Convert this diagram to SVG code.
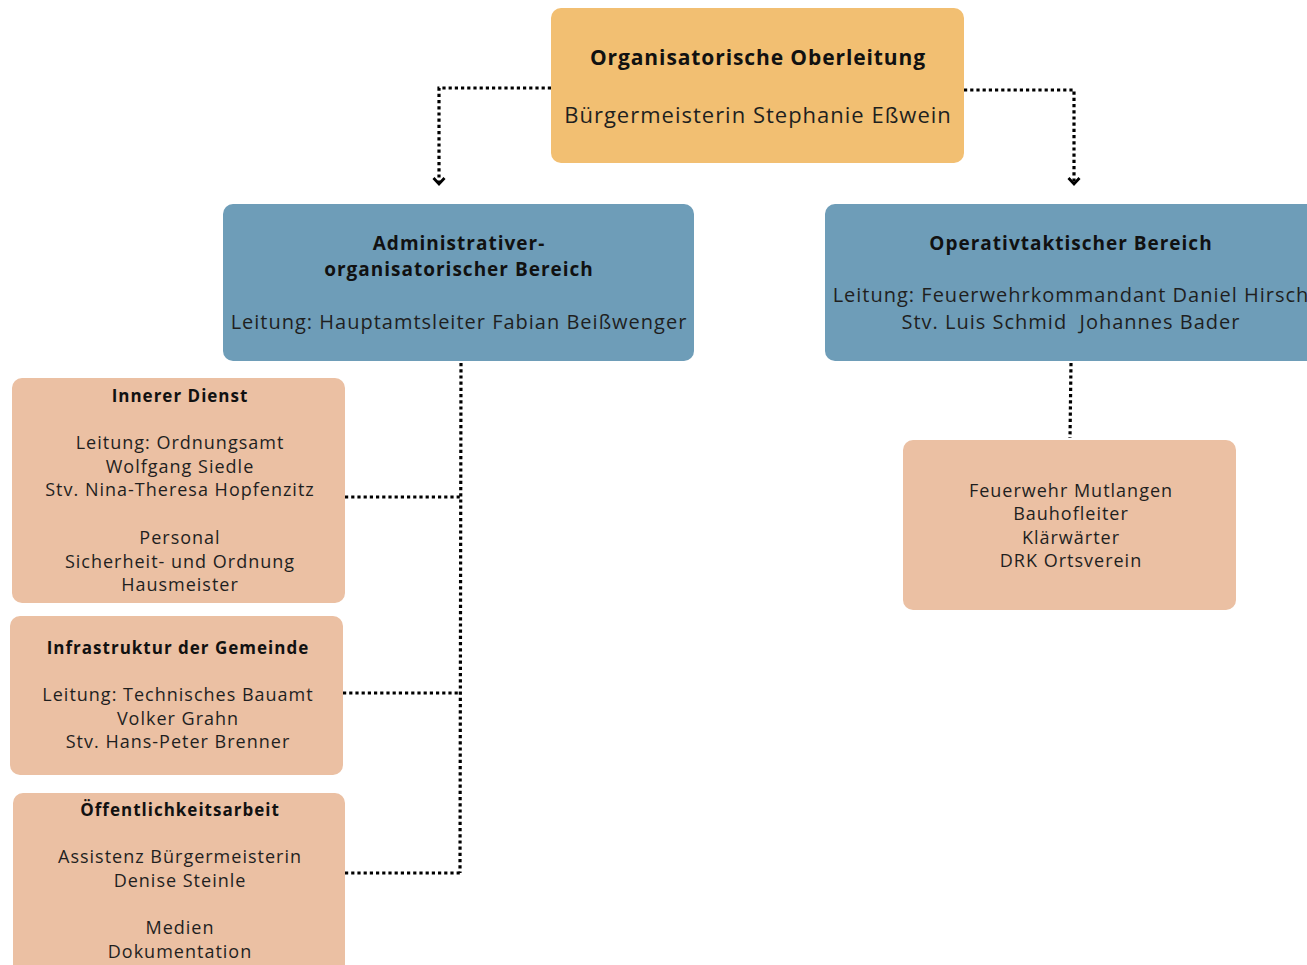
<svg xmlns="http://www.w3.org/2000/svg" width="1307" height="965" viewBox="0 0 1307 965">
<style>
text{font-family:"Open Sans","Noto Sans","DejaVu Sans",sans-serif;fill:#1f1f1f;text-anchor:middle;letter-spacing:1px}
.b{font-weight:bold;fill:#111}
.t21{font-size:22px}
.b.t21{font-size:21px;letter-spacing:0.9px}
.t19{font-size:20px}
.b.t19{font-size:19px}
.t17{font-size:18px}
.b.t17{font-size:17px}
.orange{fill:#F2BF72}
.blue{fill:#6E9DB8}
.peach{fill:#EBC0A3}
.dot{fill:none;stroke:#000;stroke-width:3.2;stroke-dasharray:3.2 3}
</style>
<defs>
<marker id="chev" markerWidth="14" markerHeight="12" refX="7" refY="9" orient="0" markerUnits="userSpaceOnUse">
<polyline points="1.5,3 7,9 12.5,3" fill="none" stroke="#000" stroke-width="2.8"/>
</marker>
</defs>
<rect width="1307" height="965" fill="#fff"/>
<g id="connectors">
<polyline class="dot" points="551,88 439,88 439,184" marker-end="url(#chev)"/>
<polyline class="dot" points="964,90 1074,90 1074,184" marker-end="url(#chev)"/>
<polyline class="dot" points="461,363 460,873"/>
<polyline class="dot" points="345,497 461,497"/>
<polyline class="dot" points="343,693 460,693"/>
<polyline class="dot" points="345,873 460,873"/>
<polyline class="dot" points="1071,363 1070,438"/>
</g>
<g id="oberleitung">
<rect class="orange" x="551" y="8" width="413" height="155" rx="10"/>
<text class="b t21" x="758" y="65">Organisatorische Oberleitung</text>
<text class="t21" x="758" y="123">Bürgermeisterin Stephanie Eßwein</text>
</g>
<g id="admin">
<rect class="blue" x="223" y="204" width="471" height="157" rx="10"/>
<text class="b t19" x="459" y="250">Administrativer-</text>
<text class="b t19" x="459" y="276">organisatorischer Bereich</text>
<text class="t19" x="459" y="329">Leitung: Hauptamtsleiter Fabian Beißwenger</text>
</g>
<g id="operativ">
<rect class="blue" x="825" y="204" width="495" height="157" rx="10"/>
<text class="b t19" x="1071" y="250">Operativtaktischer Bereich</text>
<text class="t19" x="1071" y="302">Leitung: Feuerwehrkommandant Daniel Hirsch</text>
<text class="t19" x="1071" y="329" style="white-space:pre">Stv. Luis Schmid  Johannes Bader</text>
</g>
<g id="innerer-dienst">
<rect class="peach" x="12" y="378" width="333" height="225" rx="10"/>
<text class="b t17" x="180" y="402">Innerer Dienst</text>
<text class="t17" x="180" y="449">Leitung: Ordnungsamt</text>
<text class="t17" x="180" y="473">Wolfgang Siedle</text>
<text class="t17" x="180" y="496">Stv. Nina-Theresa Hopfenzitz</text>
<text class="t17" x="180" y="544">Personal</text>
<text class="t17" x="180" y="568">Sicherheit- und Ordnung</text>
<text class="t17" x="180" y="591">Hausmeister</text>
</g>
<g id="infrastruktur">
<rect class="peach" x="10" y="616" width="333" height="159" rx="10"/>
<text class="b t17" x="178" y="654">Infrastruktur der Gemeinde</text>
<text class="t17" x="178" y="701">Leitung: Technisches Bauamt</text>
<text class="t17" x="178" y="725">Volker Grahn</text>
<text class="t17" x="178" y="748">Stv. Hans-Peter Brenner</text>
</g>
<g id="oeffentlichkeit">
<rect class="peach" x="13" y="793" width="332" height="190" rx="10"/>
<text class="b t17" x="180" y="816">Öffentlichkeitsarbeit</text>
<text class="t17" x="180" y="863">Assistenz Bürgermeisterin</text>
<text class="t17" x="180" y="887">Denise Steinle</text>
<text class="t17" x="180" y="934">Medien</text>
<text class="t17" x="180" y="958">Dokumentation</text>
</g>
<g id="feuerwehr">
<rect class="peach" x="903" y="440" width="333" height="170" rx="10"/>
<text class="t17" x="1071" y="497">Feuerwehr Mutlangen</text>
<text class="t17" x="1071" y="520">Bauhofleiter</text>
<text class="t17" x="1071" y="544">Klärwärter</text>
<text class="t17" x="1071" y="567">DRK Ortsverein</text>
</g>
</svg>
